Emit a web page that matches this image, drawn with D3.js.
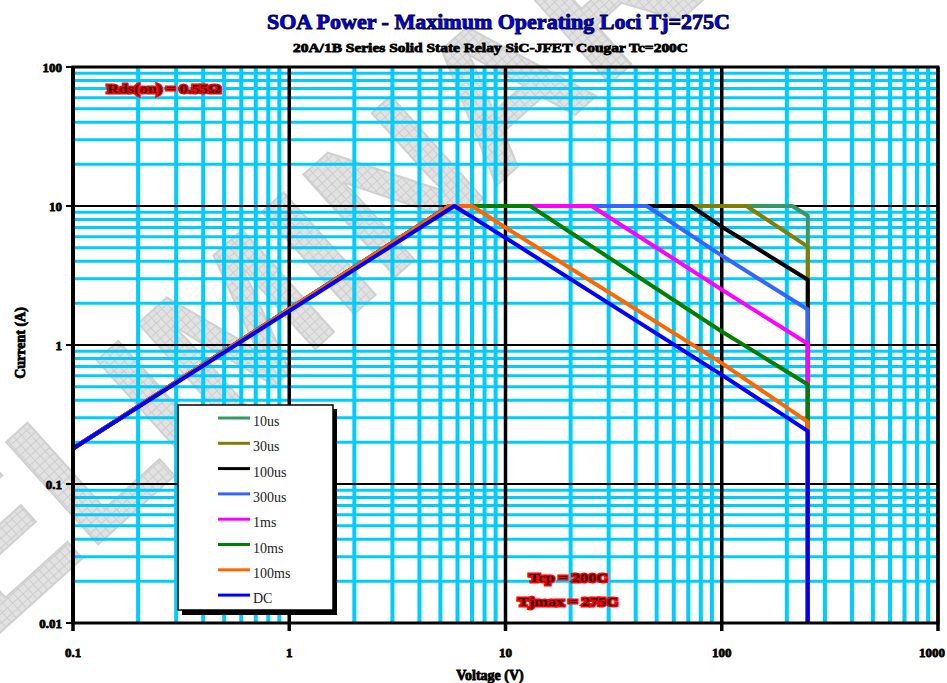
<!DOCTYPE html>
<html>
<head>
<meta charset="utf-8">
<script src="https://cdn.jsdelivr.net/npm/d3@7"></script>
<style>
  body { margin: 0; background: #fff; }
  svg { display: block; }
  text { font-family: "Liberation Serif", "DejaVu Serif", serif; }
</style>
</head>
<body>
<div id="chart"></div>
<script>
// SOA curves, [voltage (V), current (A)]
var seriesNames = ['10us', '30us', '100us', '300us', '1ms', '10ms', '100ms', 'DC'];

var s10us  = [[0.1, 0.18], [5.5, 10], [212, 10], [250, 8.5], [250, 0.01]];
var s30us  = [[0.1, 0.18], [5.5, 10], [130, 10], [250, 5.1], [250, 0.01]];
var s100us = [[0.1, 0.18], [5.5, 10], [72, 10], [100, 7.1], [250, 2.95], [250, 0.01]];
var s300us = [[0.1, 0.18], [5.5, 10], [45, 10], [100, 4.4], [250, 1.8], [250, 0.01]];
var s1ms   = [[0.1, 0.18], [5.5, 10], [25, 10], [100, 2.5], [250, 1.02], [250, 0.01]];
var s10ms  = [[0.1, 0.18], [5.5, 10], [13, 10], [100, 1.25], [250, 0.52], [250, 0.01]];
var s100ms = [[0.1, 0.18], [5.5, 10], [7, 10], [10, 7.0], [100, 0.74], [250, 0.28], [250, 0.01]];
var sDC    = [[0.1, 0.18], [5.8, 10], [10, 5.9], [100, 0.61], [250, 0.24], [250, 0.01]];

var seriesData = [s10us, s30us, s100us, s300us, s1ms, s10ms, s100ms, sDC];

var xTicks = [0.1, 1, 10, 100, 1000];
var xTickLabels = ['0.1', '1', '10', '100', '1000'];
var yTicks = [0.01, 0.1, 1, 10, 100];
var yTickLabels = ['0.01', '0.1', '1', '10', '100'];

var colors = {
  '10us': '#339966', '30us': '#808000', '100us': '#000000', '300us': '#3366ff',
  '1ms': '#ff00ff', '10ms': '#008000', '100ms': '#ff6600', 'DC': '#0000ff'
};

var W = 947, H = 683;
var svg = d3.select('#chart').append('svg').attr('width', W).attr('height', H);

var x = d3.scaleLog().domain([0.1, 1000]).range([73, 938]);
var y = d3.scaleLog().domain([0.01, 100]).range([623, 67]);

// watermark
var defs = svg.append('defs');
var pat = defs.append('pattern').attr('id', 'hatch')
  .attr('width', 7).attr('height', 7).attr('patternUnits', 'userSpaceOnUse');
pat.append('rect').attr('width', 7).attr('height', 7).attr('fill', '#e2e2e2');
pat.append('path').attr('d', 'M0,0.5H7M0.5,0V7').attr('stroke', '#cdcdcd').attr('stroke-width', 1);

svg.append('text')
  .attr('transform', 'translate(245,318) rotate(-42)')
  .attr('text-anchor', 'middle')
  .attr('dy', '0.35em')
  .style('font-family', '"Liberation Sans", sans-serif')
  .style('font-weight', 'bold')
  .style('font-size', '200px')
  .attr('fill', 'url(#hatch)')
  .attr('stroke', '#d0d0d0')
  .attr('stroke-width', 2)
  .text('PRELIMINARY');

// minor grid
var minor = [];
for (var e = -2; e < 3; e++) {
  for (var k = 2; k <= 9; k++) minor.push(k * Math.pow(10, e));
}
var xMinor = minor.filter(function(v) { return v > 0.1 && v < 1000; });
var yMinor = minor.filter(function(v) { return v > 0.01 && v < 100; });

var grid = svg.append('g');
grid.selectAll('.hmin').data(yMinor).enter().append('line')
  .attr('x1', x(0.1)).attr('x2', x(1000))
  .attr('y1', function(d) { return y(d); }).attr('y2', function(d) { return y(d); })
  .attr('stroke', '#00ccff').attr('stroke-width', 3);
grid.selectAll('.vmin').data(xMinor).enter().append('line')
  .attr('y1', y(100)).attr('y2', y(0.01))
  .attr('x1', function(d) { return x(d); }).attr('x2', function(d) { return x(d); })
  .attr('stroke', '#00ccff').attr('stroke-width', 4);

// major grid
grid.selectAll('.hmaj').data(yTicks).enter().append('line')
  .attr('x1', x(0.1)).attr('x2', x(1000))
  .attr('y1', function(d) { return y(d); }).attr('y2', function(d) { return y(d); })
  .attr('stroke', '#000').attr('stroke-width', 2);
grid.selectAll('.vmaj').data(xTicks).enter().append('line')
  .attr('y1', y(100)).attr('y2', y(0.01) + 8)
  .attr('x1', function(d) { return x(d); }).attr('x2', function(d) { return x(d); })
  .attr('stroke', '#000').attr('stroke-width', 3.5);
grid.selectAll('.ytk').data(yTicks).enter().append('line')
  .attr('x1', x(0.1) - 7).attr('x2', x(0.1))
  .attr('y1', function(d) { return y(d); }).attr('y2', function(d) { return y(d); })
  .attr('stroke', '#000').attr('stroke-width', 2);

// series
var line = d3.line()
  .x(function(d) { return x(d[0]); })
  .y(function(d) { return y(d[1]); });

svg.append('g').selectAll('path').data(seriesData).enter().append('path')
  .attr('d', line)
  .attr('fill', 'none')
  .attr('stroke', function(d, i) { return colors[seriesNames[i]]; })
  .attr('stroke-width', 4)
  .attr('stroke-linejoin', 'round');

// plot frame
svg.append('rect')
  .attr('x', x(0.1)).attr('y', y(100))
  .attr('width', x(1000) - x(0.1)).attr('height', y(0.01) - y(100))
  .attr('fill', 'none').attr('stroke', '#000').attr('stroke-width', 3);
svg.append('line')
  .attr('x1', x(0.1)).attr('x2', x(0.1)).attr('y1', y(100)).attr('y2', y(0.01))
  .attr('stroke', '#000').attr('stroke-width', 4);

// axis labels (heavy, like the original)
function heavy(sel, size) {
  return sel.style('font-weight', 'bold').style('font-size', size)
    .attr('fill', '#000').attr('stroke', '#000').attr('stroke-width', 0.8);
}

heavy(svg.append('g').selectAll('text').data(xTicks).enter().append('text')
  .attr('x', function(d) { return d === 1000 ? 945 : x(d); })
  .attr('y', 657)
  .attr('text-anchor', function(d) { return d === 1000 ? 'end' : 'middle'; })
  .text(function(d, i) { return xTickLabels[i]; }), '13px');

heavy(svg.append('g').selectAll('text').data(yTicks).enter().append('text')
  .attr('x', 62)
  .attr('y', function(d) { return y(d); })
  .attr('dy', '0.35em')
  .attr('text-anchor', 'end')
  .text(function(d, i) { return yTickLabels[i]; }), '13px');

heavy(svg.append('text')
  .attr('x', 490).attr('y', 680)
  .attr('text-anchor', 'middle')
  .text('Voltage (V)'), '14px');

heavy(svg.append('text')
  .attr('transform', 'translate(25,343) rotate(-90)')
  .attr('text-anchor', 'middle')
  .text('Current (A)'), '14px');

// titles
svg.append('text')
  .attr('x', 267).attr('y', 29)
  .attr('textLength', 463).attr('lengthAdjust', 'spacingAndGlyphs')
  .style('font-weight', 'bold').style('font-size', '21px')
  .attr('fill', '#0000ff').attr('stroke', '#000044').attr('stroke-width', 0.9)
  .text('SOA Power - Maximum Operating Loci Tj=275C');

heavy(svg.append('text')
  .attr('x', 293).attr('y', 52)
  .attr('textLength', 395).attr('lengthAdjust', 'spacingAndGlyphs')
  .text('20A/1B Series Solid State Relay SiC-JFET Cougar Tc=200C'), '13px');

// red annotations
function note(tx, ty, str, len) {
  svg.append('text')
    .attr('x', tx).attr('y', ty)
    .attr('textLength', len).attr('lengthAdjust', 'spacingAndGlyphs')
    .style('font-weight', 'bold').style('font-size', '13px')
    .style('paint-order', 'stroke')
    .attr('fill', '#300').attr('stroke', '#ff0000').attr('stroke-width', 3)
    .text(str);
}
note(107, 93, 'Rds(on) = 0.55\u03a9', 114);
note(529, 582, 'Tcp = 200C', 79);
note(518, 606, 'Tjmax = 275C', 100);

// legend
var lg = svg.append('g');
lg.append('rect').attr('x', 182).attr('y', 409).attr('width', 155).attr('height', 206).attr('fill', '#000');
lg.append('rect').attr('x', 178).attr('y', 405).attr('width', 155).attr('height', 205)
  .attr('fill', '#fff').attr('stroke', '#000').attr('stroke-width', 1.5);

var rows = lg.selectAll('.row').data(seriesNames).enter().append('g')
  .attr('transform', function(d, i) { return 'translate(0,' + (418 + i * 25.3) + ')'; });
rows.append('line')
  .attr('x1', 218).attr('x2', 250)
  .attr('stroke', function(d) { return colors[d]; })
  .attr('stroke-width', 3);
rows.append('text')
  .attr('x', 253).attr('y', 8)
  .style('font-size', '14px')
  .attr('fill', '#222')
  .text(function(d) { return d; });
</script>
</body>
</html>
